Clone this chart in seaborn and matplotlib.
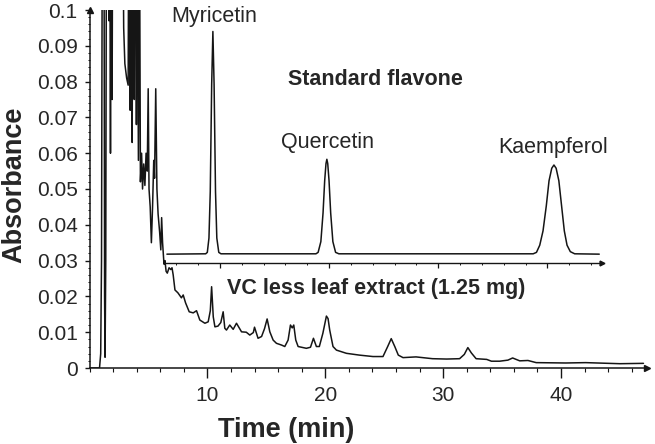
import numpy as np
import matplotlib
matplotlib.use("Agg")
import matplotlib.pyplot as plt
from matplotlib.ticker import MultipleLocator
import seaborn as sns

# extrato da folha (eixo principal, min / absorbancia)
time_min = [0.0, 0.85, 0.95, 1.02, 1.1, 1.22, 1.28, 1.32, 1.38, 1.45, 1.6, 1.65, 1.7, 1.78,
            1.85, 1.92, 1.98, 2.5, 2.85, 2.9, 3.0, 3.15, 3.28, 3.35, 3.45, 3.52, 3.62, 3.7,
            3.8, 3.88, 3.98, 4.05, 4.15, 4.25, 4.32, 4.42, 4.5, 4.6, 4.7, 4.8, 4.9, 4.98,
            5.05, 5.15, 5.25, 5.35, 5.45, 5.52, 5.62, 5.72, 5.82, 5.95, 6.05, 6.12, 6.2,
            6.32, 6.4, 6.5, 6.6, 6.75, 6.9, 7.0, 7.1, 7.25, 7.5, 7.8, 7.95, 8.15, 8.46,
            8.8, 9.08, 9.36, 9.79, 10.07, 10.25, 10.36, 10.5, 10.64, 10.9, 11.14, 11.34,
            11.48, 11.62, 11.9, 12.19, 12.47, 12.9, 13.3, 13.6, 13.9, 14.0, 14.3, 14.6,
            14.85, 15.07, 15.3, 15.58, 15.86, 16.3, 16.57, 16.85, 17.05, 17.2, 17.33, 17.5,
            17.7, 18.4, 18.75, 19.0, 19.25, 19.5, 19.8, 20.1, 20.24, 20.38, 20.66, 20.95,
            21.8, 22.9, 24.05, 24.9, 25.3, 25.6, 25.9, 26.2, 26.6, 27.7, 29.1, 30.3, 31.4,
            31.8, 32.1, 32.4, 32.8, 33.3, 33.7, 34.1, 34.8, 35.5, 35.9, 36.5, 37.2, 37.9,
            40.4, 42.1, 45.0, 47.0]
absorbance = [0.0, 0.0, 0.004, 0.03, 0.15, 0.15, 0.02, 0.003, 0.03, 0.15, 0.15, 0.097, 0.15,
              0.06, 0.15, 0.075, 0.15, 0.2, 0.12, 0.095, 0.085, 0.081, 0.079, 0.15, 0.072,
              0.15, 0.063, 0.15, 0.075, 0.15, 0.068, 0.13, 0.058, 0.12, 0.052, 0.06, 0.05,
              0.057, 0.051, 0.06, 0.055, 0.078, 0.05, 0.045, 0.035, 0.045, 0.058, 0.053,
              0.078, 0.05, 0.043, 0.038, 0.033, 0.042, 0.035, 0.029, 0.03, 0.027, 0.0265,
              0.028, 0.0275, 0.028, 0.026, 0.0218, 0.021, 0.0196, 0.0204, 0.0182, 0.0157,
              0.0154, 0.016, 0.0134, 0.0125, 0.0129, 0.016, 0.0227, 0.0143, 0.0115, 0.0117,
              0.0127, 0.0157, 0.0111, 0.0106, 0.012, 0.0108, 0.0125, 0.0101, 0.01, 0.0092,
              0.0099, 0.0114, 0.0083, 0.0088, 0.011, 0.0137, 0.0101, 0.0078, 0.0069, 0.0064,
              0.006, 0.0078, 0.012, 0.0112, 0.012, 0.0078, 0.006, 0.0055, 0.0058, 0.0083,
              0.006, 0.006, 0.0097, 0.0145, 0.0138, 0.0106, 0.006, 0.005, 0.0041, 0.0036,
              0.0032, 0.0032, 0.006, 0.0082, 0.006, 0.0036, 0.0029, 0.0031, 0.0026, 0.0025,
              0.0026, 0.0038, 0.0057, 0.0042, 0.0026, 0.0025, 0.0024, 0.0019, 0.0019, 0.0022,
              0.0028, 0.002, 0.0021, 0.0015, 0.0014, 0.0015, 0.0012, 0.0013]

# padrao de flavonas (eixo do inset)
std_time = [5.15, 8.7, 8.85, 9.0, 9.12, 9.25, 9.36, 9.47, 9.6, 9.72, 9.9, 10.1,
            18.8, 19.0, 19.25, 19.45, 19.6, 19.72, 19.8, 19.88, 20.0, 20.15, 20.35, 20.6, 20.9,
            38.7, 39.0, 39.3, 39.6, 39.9, 40.15, 40.4, 40.6, 40.8, 41.05, 41.3, 41.55, 41.8,
            42.1, 42.5, 44.75]
std_signal = [0.0025, 0.0026, 0.003, 0.007, 0.02, 0.05, 0.0647, 0.05, 0.02, 0.007, 0.003, 0.0026,
              0.0026, 0.003, 0.006, 0.014, 0.023, 0.0278, 0.029, 0.0278, 0.023, 0.014, 0.006,
              0.003, 0.0026,
              0.0026, 0.003, 0.005, 0.009, 0.016, 0.023, 0.0265, 0.0274, 0.0265, 0.023, 0.016,
              0.009, 0.005, 0.0032, 0.0026, 0.0025]

y_ticks = [0, 0.01, 0.02, 0.03, 0.04, 0.05, 0.06, 0.07, 0.08, 0.09, 0.1]
y_ticklabels = ["0", "0.01", "0.02", "0.03", "0.04", "0.05", "0.06", "0.07", "0.08", "0.09", "0.1"]
x_ticks = [10, 20, 30, 40]

sns.set_theme(style="ticks")
plt.rcParams["font.family"] = ["Liberation Sans", "DejaVu Sans"]

fig = plt.figure(figsize=(6.55, 4.44), dpi=100)
ax = fig.add_axes([89.5 / 655, 76 / 444, 557.5 / 655, 358 / 444])

cor = "#151515"
sns.lineplot(x=time_min, y=absorbance, ax=ax, color=cor, lw=1.1,
             estimator=None, sort=False)
ax.set_xlim(0, 47.3)
ax.set_ylim(0, 0.1)
ax.set_xticks(x_ticks)
ax.set_xticklabels([str(t) for t in x_ticks])
ax.set_yticks(y_ticks)
ax.set_yticklabels(y_ticklabels)
ax.xaxis.set_minor_locator(MultipleLocator(2))
ax.yaxis.set_minor_locator(MultipleLocator(0.002))
ax.tick_params(axis="x", which="major", direction="out", length=7, width=1, labelsize=15, pad=6, color=cor)
ax.tick_params(axis="x", which="minor", direction="out", length=2.6, width=0.8, color=cor)
ax.tick_params(axis="y", which="major", direction="out", length=3.6, width=1, labelsize=15, pad=5, color=cor)
ax.tick_params(axis="y", which="minor", direction="out", length=1.8, width=0.7, color=cor)
for lado in ["top", "right"]:
    ax.spines[lado].set_visible(False)
for lado in ["left", "bottom"]:
    ax.spines[lado].set_linewidth(1.1)
    ax.spines[lado].set_color(cor)
ax.plot(1, 0, marker=">", ms=4, color=cor, transform=ax.transAxes, clip_on=False)
ax.plot(0, 1, marker="^", ms=4, color=cor, transform=ax.transAxes, clip_on=False)

ax.set_xlabel("Time (min)", fontsize=19.5, fontweight="bold")
ax.set_ylabel("Absorbance", fontsize=19.5, fontweight="bold")
ax.xaxis.set_label_coords(0.353, -0.138)
ax.yaxis.set_label_coords(-0.112, 0.511)

# inset com o padrao
axin = ax.inset_axes([6.43, 0.0293, 37.05, 0.0707], transform=ax.transData)
sns.lineplot(x=std_time, y=std_signal, ax=axin, color=cor, lw=1.1,
             estimator=None, sort=False)
axin.set_xlim(5, 45)
axin.set_ylim(0, 0.0707)
axin.patch.set_alpha(0)
axin.set_yticks([])
axin.set_xticks(x_ticks)
axin.set_xticklabels([])
axin.xaxis.set_minor_locator(MultipleLocator(2))
axin.tick_params(axis="x", which="major", direction="out", length=3.3, width=0.9, color=cor)
axin.tick_params(axis="x", which="minor", direction="out", length=1.6, width=0.7, color=cor)
axin.set_xlabel("")
axin.set_ylabel("")
for lado in ["top", "right", "left"]:
    axin.spines[lado].set_visible(False)
axin.spines["bottom"].set_linewidth(1.0)
axin.spines["bottom"].set_color(cor)
axin.plot(1, 0, marker=">", ms=3.5, color=cor, transform=axin.transAxes, clip_on=False)

ax.text(10.55, 0.0983, "Myricetin", fontsize=15.5, ha="center", va="center")
ax.text(24.28, 0.0807, "Standard flavone", fontsize=15.5, fontweight="bold", ha="center", va="center")
ax.text(20.17, 0.0631, "Quercetin", fontsize=15.5, ha="center", va="center")
ax.text(39.36, 0.0617, "Kaempferol", fontsize=15.5, ha="center", va="center")
ax.text(24.32, 0.0221, "VC less leaf extract (1.25 mg)", fontsize=15.5, fontweight="bold",
        ha="center", va="center")

fig.savefig("out.png", dpi=100)
